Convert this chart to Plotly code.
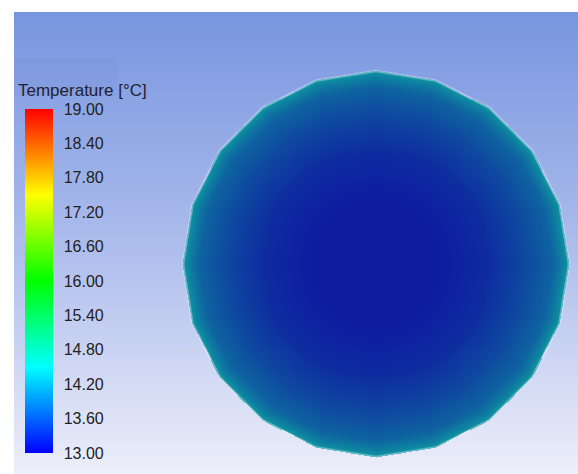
import numpy as np
import plotly.graph_objects as go

# ---- colour legend -------------------------------------------------------
T_MIN, T_MAX = 13.0, 19.0
tick_values = [13.00, 13.60, 14.20, 14.80, 15.40, 16.00, 16.60, 17.20, 17.80, 18.40, 19.00]
tick_labels = ["13.00", "13.60", "14.20", "14.80", "15.40", "16.00",
               "16.60", "17.20", "17.80", "18.40", "19.00"]
legend_title = "Temperature [°C]"

# rainbow map: blue -> cyan -> green -> yellow -> red
rainbow_stops = [0.0, 0.25, 0.5, 0.75, 1.0]
rainbow_rgb = [(0, 0, 255), (0, 255, 255), (0, 255, 0), (255, 255, 0), (255, 0, 0)]

# ---- cross-section data --------------------------------------------------
N_SIDES = 20                      # facets of the circular section
# radial temperature profile (normalised radius -> °C)
profile_rho = [0.00, 0.38, 0.585, 0.79, 0.92, 0.974, 1.00]
profile_temp = [13.12, 13.16, 13.30, 13.60, 13.86, 14.16, 14.40]

# ---- view geometry (pixel <-> model units) -------------------------------
W, H = 578, 474
PX_PER_UNIT = 193.0
CX_PX, CY_PX = 376.0, 264.0
x_range = [-CX_PX / PX_PER_UNIT, (W - CX_PX) / PX_PER_UNIT]
y_range = [-(H - CY_PX) / PX_PER_UNIT, CY_PX / PX_PER_UNIT]
bg_left = (14 - CX_PX) / PX_PER_UNIT
bg_top = (CY_PX - 12) / PX_PER_UNIT


def rgb(c):
    return "rgb({},{},{})".format(*[int(round(v)) for v in c])


def shade(c, k=0.59, amb=(14, 14, 10)):
    # lit surface: darkened colour plus a small ambient term
    return tuple(a + k * v for a, v in zip(amb, c))


legend_scale = [[s, rgb(c)] for s, c in zip(rainbow_stops, rainbow_rgb)]
surface_scale = [[s, rgb(shade(c))] for s, c in zip(rainbow_stops, rainbow_rgb)]

# ---- field on the faceted disc ------------------------------------------
n = 401
gx = np.linspace(-1.0, 1.0, n)
gy = np.linspace(-1.0, 1.0, n)
XX, YY = np.meshgrid(gx, gy)
r = np.hypot(XX, YY)
theta = np.degrees(np.arctan2(YY, XX))
step = 360.0 / N_SIDES
k = np.floor(((theta - 90.0) % 360.0) / step)
centre_ang = 90.0 + step * k + step / 2.0
apothem = np.cos(np.radians(step / 2.0))
r_edge = apothem / np.cos(np.radians(theta - centre_ang))
rho = r / r_edge
field = np.interp(rho, profile_rho, profile_temp)
field = np.where(rho <= 1.0, field, np.nan)

verts = np.radians(90.0 + step * np.arange(N_SIDES + 1))
edge_x = np.cos(verts)
edge_y = np.sin(verts)

# ---- background gradient -------------------------------------------------
bg_rows = 120
bg_y = np.linspace(y_range[0], bg_top, bg_rows + 1)
bg_z = np.linspace(0.0, 1.0, bg_rows).reshape(-1, 1)
bg_scale = [[0.0, "rgb(236,238,249)"], [0.5, "rgb(172,188,236)"], [1.0, "rgb(120,150,224)"]]

fig = go.Figure()

fig.add_trace(go.Heatmap(
    x=[bg_left, x_range[1] + 0.01], y=bg_y, z=bg_z,
    colorscale=bg_scale, showscale=False, hoverinfo="skip", zsmooth="best",
))

fig.add_trace(go.Heatmap(
    x=gx, y=gy, z=field, zmin=T_MIN, zmax=T_MAX,
    colorscale=surface_scale, showscale=False, hoverinfo="skip",
))

# soft halo along the section boundary
fig.add_trace(go.Scatter(
    x=edge_x, y=edge_y, mode="lines",
    line=dict(color="rgba(232,230,252,0.40)", width=2.5),
    hoverinfo="skip", showlegend=False,
))

# colour legend
fig.add_trace(go.Scatter(
    x=[None, None], y=[None, None], mode="markers", showlegend=False,
    marker=dict(
        color=[T_MIN, T_MAX], cmin=T_MIN, cmax=T_MAX, colorscale=legend_scale,
        showscale=True,
        colorbar=dict(
            x=25 / W, xanchor="left", xpad=0,
            y=1 - 109 / H, yanchor="top", ypad=0,
            len=344 / H, lenmode="fraction",
            thickness=28, thicknessmode="pixels",
            outlinewidth=0,
            tickmode="array", tickvals=tick_values, ticktext=tick_labels,
            ticks="outside", ticklen=8, tickcolor="rgba(0,0,0,0)",
            tickfont=dict(family="Liberation Sans, Arial", size=16, color="#222222"),
        ),
    ),
))

fig.add_annotation(
    x=16 / W, y=1 - 90.5 / H, xref="paper", yref="paper",
    xanchor="left", yanchor="middle", showarrow=False,
    text=legend_title,
    font=dict(family="Liberation Sans, Arial", size=17, color="#222233"),
)

# faint legend backdrop
fig.add_shape(
    type="rect", xref="paper", yref="paper",
    x0=14 / W, x1=117 / W, y0=1 - 96 / H, y1=1 - 58 / H,
    line=dict(width=0), fillcolor="rgba(80,100,190,0.06)", layer="above",
)

fig.update_layout(
    width=W, height=H, autosize=False,
    margin=dict(l=0, r=0, t=0, b=0, pad=0),
    paper_bgcolor="white", plot_bgcolor="white",
    xaxis=dict(range=x_range, visible=False, fixedrange=True),
    yaxis=dict(range=y_range, visible=False, fixedrange=True),
    showlegend=False,
)

fig.write_html("out.html", config={"displayModeBar": False})
